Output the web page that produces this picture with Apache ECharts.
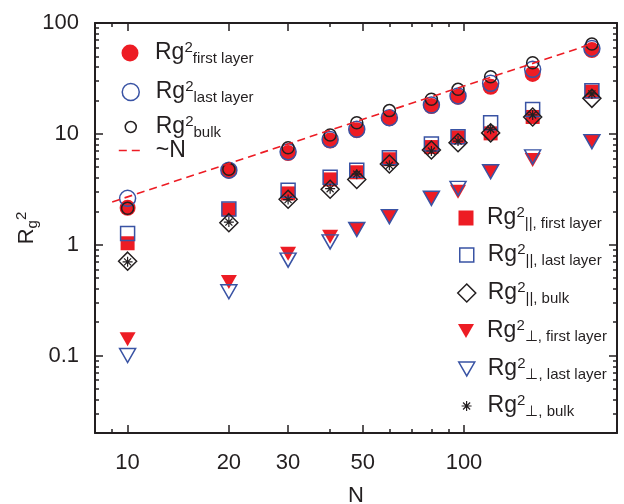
<!DOCTYPE html>
<html>
<head>
<meta charset="utf-8">
<script src="https://cdn.jsdelivr.net/npm/echarts@6/dist/echarts.min.js"></script>
<style>
html,body{margin:0;padding:0;background:#fff;}
#chart{width:624px;height:504px;}
</style>
</head>
<body>
<div id="chart"></div>
<script>
// ---- data ----
const N = [10, 20, 30, 40, 48, 60, 80, 96, 120, 160, 240];
const rgFirst   = [2.15, 4.65, 6.7, 8.7, 10.8, 13.8, 17.8, 21.6, 26.6, 34.7, 57];
const rgLast    = [2.62, 4.7, 6.9, 8.9, 11.0, 14.0, 18.2, 22.0, 28.6, 38.2, 59];
const rgBulk    = [2.13, 4.79, 7.49, 9.75, 12.6, 16.2, 20.5, 25.2, 32.7, 43.8, 64.6];
const parFirst  = [1.03, 2.08, 2.9, 3.88, 4.5, 5.9, 7.6, 9.3, 10.1, 14.2, 24];
const parLast   = [1.26, 2.1, 3.1, 4.05, 4.7, 6.1, 8.1, 9.4, 12.6, 16.6, 24.5];
const parBulk   = [0.71, 1.58, 2.57, 3.16, 3.88, 5.34, 7.15, 8.3, 10.2, 14.2, 20.9];
const perpFirst = [0.14, 0.46, 0.83, 1.18, 1.37, 1.79, 2.62, 3.0, 4.55, 5.8, 8.5];
const perpLast  = [0.10, 0.376, 0.726, 1.06, 1.37, 1.79, 2.62, 3.22, 4.55, 6.2, 8.5];
const perpBulk  = [0.70, 1.6, 2.55, 3.2, 4.33, 5.2, 7.0, 8.6, 11, 14.8, 22.9];
const lineN = [9, 240];
const lineV = [2.43, 64.8];

const xTickLabels = [10, 20, 30, 50, 100];
const xMinorTicks = [9, 40, 60, 70, 80, 90];
const yTickLabels = [0.1, 1, 10, 100];
const yMinorTicks = [0.02,0.03,0.04,0.05,0.06,0.07,0.08,0.09,
                     0.2,0.3,0.4,0.5,0.6,0.7,0.8,0.9,
                     2,3,4,5,6,7,8,9,
                     20,30,40,50,60,70,80,90];
const xRange = [8, 285];
const yRange = [0.02, 100];

// ---- style ----
const RED = '#ed1c24', BLUE = '#3953a4', BLACK = '#231f20';
const FONT = "'Liberation Sans', Arial, Helvetica, sans-serif";
const TRI = 'path://M0,0L10,0L5,8.66Z';
const STAR = 'path://M5,0L5,10M0,5L10,5M1.46,1.46L8.54,8.54M8.54,1.46L1.46,8.54';

const lg = v => Math.log10(v);
const fmt = v => String(Math.round(Math.pow(10, v) * 1000) / 1000);
const pairs = ys => N.map((n, i) => [n, ys[i]]);

function tickAxis(pos, range, ticks, len, opts) {
  return Object.assign({
    type: 'value', position: pos,
    min: lg(range[0]), max: lg(range[1]),
    axisLine: {show: false, onZero: false},
    axisTick: {show: true, inside: true, length: len, customValues: ticks.map(lg),
               lineStyle: {color: BLACK, width: 1.5}},
    axisLabel: {show: false},
    splitLine: {show: false},
    silent: true
  }, opts || {});
}
const frameLine = {show: true, onZero: false, lineStyle: {color: BLACK, width: 2}};
const labelBase = {show: true, fontSize: 22, fontFamily: FONT, color: BLACK, formatter: fmt};

const hollow = c => ({color: 'transparent', borderColor: c, borderWidth: 1.5, opacity: 1});
const filled = c => ({color: c, borderWidth: 0, opacity: 1});
const starStyle = {color: 'transparent', borderColor: BLACK, borderWidth: 1.2, opacity: 1};

const seriesDefs = [
  {name: 'first',     data: rgFirst,   symbol: 'circle',  size: 16,      style: filled(RED)},
  {name: 'last',      data: rgLast,    symbol: 'circle',  size: 16,      style: hollow(BLUE)},
  {name: 'bulk',      data: rgBulk,    symbol: 'circle',  size: 12,      style: hollow(BLACK)},
  {name: 'parFirst',  data: parFirst,  symbol: 'rect',    size: 14,      style: filled(RED)},
  {name: 'parLast',   data: parLast,   symbol: 'rect',    size: 14,      style: hollow(BLUE)},
  {name: 'parBulk',   data: parBulk,   symbol: 'diamond', size: 18,      style: hollow(BLACK)},
  {name: 'perpFirst', data: perpFirst, symbol: TRI,       size: [16,14], style: filled(RED)},
  {name: 'perpLast',  data: perpLast,  symbol: TRI,       size: [16,14], style: hollow(BLUE)},
  {name: 'perpBulk',  data: perpBulk,  symbol: STAR,      size: 10,      style: starStyle}
];

const series = seriesDefs.map(d => ({
  name: d.name, type: 'scatter', xAxisIndex: 0, yAxisIndex: 0,
  data: pairs(d.data), symbol: d.symbol, symbolSize: d.size,
  itemStyle: d.style, emphasis: {disabled: true}, silent: true, animation: false
}));
series.push({
  name: '~N', type: 'line', xAxisIndex: 0, yAxisIndex: 0,
  data: lineN.map((n, i) => [n, lineV[i]]), symbol: 'none', showSymbol: false,
  itemStyle: {color: RED},
  lineStyle: {color: RED, width: 1.6, type: [8, 5]}, silent: true, animation: false, z: 3
});

function richLeg(pad) {
  return {
    b: {fontSize: 23, fontFamily: FONT, color: BLACK, lineHeight: 26, padding: [0, 0, 0, pad]},
    sup: {fontSize: 15, fontFamily: FONT, color: BLACK, verticalAlign: 'top'},
    sub: {fontSize: 15, fontFamily: FONT, color: BLACK, verticalAlign: 'bottom'}
  };
}
const legendText = {
  first: '{b|Rg}{sup|2}{sub|first layer}',
  last: '{b|Rg}{sup|2}{sub|last layer}',
  bulk: '{b|Rg}{sup|2}{sub|bulk}',
  '~N': '{b|~N}',
  parFirst: '{b|Rg}{sup|2}{sub|||, first layer}',
  parLast: '{b|Rg}{sup|2}{sub|||, last layer}',
  parBulk: '{b|Rg}{sup|2}{sub|||, bulk}',
  perpFirst: '{b|Rg}{sup|2}{sub|\u22A5, first layer}',
  perpLast: '{b|Rg}{sup|2}{sub|\u22A5, last layer}',
  perpBulk: '{b|Rg}{sup|2}{sub|\u22A5, bulk}'
};
// legend placement: [name, icon, itemStyle, iconW, iconH, iconCenterX, rowCenterY, textX]
const hidden = {color: 'transparent', borderWidth: 0, opacity: 0};
const legendDefs = [
  ['first', 'circle', filled(RED), 17, 17, 130, 53, 155],
  ['last', 'circle', hollow(BLUE), 17, 17, 130, 92, 155],
  ['bulk', 'circle', hollow(BLACK), 11, 11, 130, 127, 155],
  ['~N', null, hidden, 24, 14, 130, 152, 155],
  ['parFirst', 'rect', filled(RED), 15, 15, 466, 218, 487],
  ['parLast', 'rect', hollow(BLUE), 14, 14, 466, 255, 487],
  ['parBulk', 'diamond', hollow(BLACK), 18, 18, 466, 293, 487],
  ['perpFirst', TRI, filled(RED), 16, 14, 466, 331, 487],
  ['perpLast', TRI, hollow(BLUE), 16, 14, 466, 369, 487],
  ['perpBulk', STAR, starStyle, 10, 10, 466, 406, 487]
];
const legends = legendDefs.map(d => {
  const item = {name: d[0], itemStyle: d[2]};
  if (d[1]) item.icon = d[1];
  const left = d[5] - d[3] / 2;
  const pad = d[7] - (left + d[3] + 5);
  return {
    data: [item], left: left, top: d[6] - 13, orient: 'vertical', padding: 0,
    itemWidth: d[3], itemHeight: d[4], selectedMode: false,
    lineStyle: {color: RED, width: 1.6, type: [8, 5]},
    formatter: name => legendText[name],
    textStyle: {fontFamily: FONT, color: BLACK, fontSize: 23, rich: richLeg(pad)}
  };
});

const option = {
  animation: false,
  backgroundColor: '#fff',
  grid: {left: 95, right: 7, top: 23, bottom: 71, containLabel: false, outerBoundsMode: 'none'},
  legend: legends,
  xAxis: [
    {type: 'log', logBase: 10, min: xRange[0], max: xRange[1], show: false, position: 'bottom'},
    tickAxis('bottom', xRange, xTickLabels, 8, {
      axisLine: frameLine,
      axisLabel: Object.assign({customValues: xTickLabels.map(lg), margin: 19}, labelBase),
      name: 'N', nameLocation: 'middle', nameGap: 52, nameMoveOverlap: false,
      nameTextStyle: {fontSize: 22, fontFamily: FONT, color: BLACK}
    }),
    tickAxis('bottom', xRange, xMinorTicks, 4),
    tickAxis('top', xRange, xTickLabels, 8, {axisLine: frameLine}),
    tickAxis('top', xRange, xMinorTicks, 4)
  ],
  yAxis: [
    {type: 'log', logBase: 10, min: yRange[0], max: yRange[1], show: false, position: 'left'},
    tickAxis('left', yRange, yTickLabels, 8, {
      axisLine: frameLine,
      axisLabel: Object.assign({customValues: yTickLabels.map(lg), margin: 16}, labelBase),
      name: '{r|R}{s|g}{p|2}', nameLocation: 'middle', nameGap: 55, nameRotate: 90,
      nameMoveOverlap: false,
      nameTextStyle: {fontFamily: FONT, color: BLACK, fontSize: 22, rich: {
        r: {fontSize: 22, fontFamily: FONT, color: BLACK, lineHeight: 26},
        s: {fontSize: 15, fontFamily: FONT, color: BLACK, verticalAlign: 'bottom'},
        p: {fontSize: 15, fontFamily: FONT, color: BLACK, verticalAlign: 'top'}
      }}
    }),
    tickAxis('left', yRange, yMinorTicks, 4),
    tickAxis('right', yRange, yTickLabels, 8, {axisLine: frameLine}),
    tickAxis('right', yRange, yMinorTicks, 4)
  ],
  series: series
};

const chart = echarts.init(document.getElementById('chart'), null, {renderer: 'canvas'});
chart.setOption(option);
</script>
</body>
</html>
